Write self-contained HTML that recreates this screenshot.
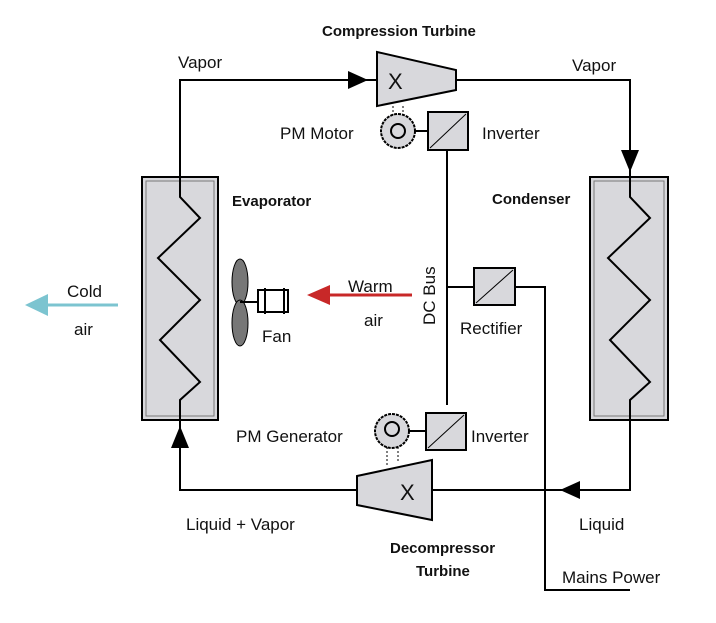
<!DOCTYPE html>
<html><head><style>
body{margin:0;background:#fff;}
svg text{font-family:"Liberation Sans",sans-serif;font-size:17px;fill:#111;}
.b{font-weight:bold;font-size:15px;}
</style></head><body>
<svg width="716" height="618" viewBox="0 0 716 618">
<g stroke="#000" stroke-width="2" fill="none">
<polyline points="180,177 180,80 378,80"/>
<polyline points="455,80 630,80 630,177"/>
<polyline points="630,420 630,490 432,490"/>
<polyline points="357,490 180,490 180,420"/>
<line x1="447" y1="150" x2="447" y2="405"/>
<line x1="447" y1="287" x2="474" y2="287"/>
<polyline points="515,287 545,287 545,590 630,590"/>
</g>
<!-- evaporator -->
<rect x="142" y="177" width="76" height="243" fill="#d8d8dc" stroke="#000" stroke-width="2"/>
<rect x="146" y="181" width="68" height="235" fill="none" stroke="#777" stroke-width="1"/>
<polyline points="180,177 180,197 200,218 158,258 200,300 160,340 200,382 180,400 180,420" fill="none" stroke="#000" stroke-width="2"/>
<!-- condenser -->
<rect x="590" y="177" width="78" height="243" fill="#d8d8dc" stroke="#000" stroke-width="2"/>
<rect x="594" y="181" width="70" height="235" fill="none" stroke="#777" stroke-width="1"/>
<polyline points="630,177 630,197 650,218 608,258 650,300 610,340 650,382 630,400 630,420" fill="none" stroke="#000" stroke-width="2"/>
<!-- arrows -->
<polygon points="348,71 368,80 348,89" fill="#000"/>
<polygon points="621,150 639,150 630,172" fill="#000"/>
<polygon points="171,448 189,448 180,426" fill="#000"/>
<polygon points="580,481 580,499 560,490" fill="#000"/>
<!-- compression turbine -->
<polygon points="377,52 456,70 456,90 377,106" fill="#d8d8dc" stroke="#000" stroke-width="2"/>
<text x="388" y="89" style="font-size:22px">X</text>
<line x1="393" y1="106" x2="393" y2="116" stroke="#000" stroke-dasharray="2,2"/>
<line x1="403" y1="106" x2="403" y2="116" stroke="#000" stroke-dasharray="2,2"/>
<circle cx="398" cy="131" r="17" fill="#d8d8dc" stroke="#000" stroke-width="2" stroke-dasharray="3,1"/>
<circle cx="398" cy="131" r="7" fill="none" stroke="#000" stroke-width="2"/>
<line x1="415" y1="131" x2="428" y2="131" stroke="#000" stroke-width="2"/>
<rect x="428" y="112" width="40" height="38" fill="#d8d8dc" stroke="#000" stroke-width="2"/>
<line x1="430" y1="148" x2="466" y2="114" stroke="#000"/>
<!-- decompressor -->
<polygon points="357,476 432,460 432,520 357,505" fill="#d8d8dc" stroke="#000" stroke-width="2"/>
<text x="400" y="500" style="font-size:22px">X</text>
<line x1="387" y1="447" x2="387" y2="465" stroke="#000" stroke-dasharray="2,2"/>
<line x1="398" y1="447" x2="398" y2="462" stroke="#000" stroke-dasharray="2,2"/>
<circle cx="392" cy="431" r="17" fill="#d8d8dc" stroke="#000" stroke-width="2" stroke-dasharray="3,1"/>
<circle cx="392" cy="429" r="7" fill="none" stroke="#000" stroke-width="2"/>
<line x1="409" y1="431" x2="426" y2="431" stroke="#000" stroke-width="2"/>
<rect x="426" y="413" width="40" height="37" fill="#d8d8dc" stroke="#000" stroke-width="2"/>
<line x1="428" y1="448" x2="464" y2="415" stroke="#000"/>
<!-- rectifier -->
<rect x="474" y="268" width="41" height="37" fill="#d8d8dc" stroke="#000" stroke-width="2"/>
<line x1="476" y1="303" x2="513" y2="270" stroke="#000"/>
<!-- fan -->
<ellipse cx="240" cy="282" rx="8" ry="23" fill="#777" stroke="#000"/>
<ellipse cx="240" cy="323" rx="8" ry="23" fill="#777" stroke="#000"/>
<line x1="240" y1="302" x2="258" y2="302" stroke="#000" stroke-width="2"/>
<rect x="258" y="290" width="30" height="22" fill="#fff" stroke="#000" stroke-width="2"/>
<line x1="265" y1="288" x2="265" y2="314" stroke="#000" stroke-width="2"/>
<line x1="284" y1="288" x2="284" y2="314" stroke="#000" stroke-width="2"/>
<!-- air arrows -->
<line x1="118" y1="305" x2="42" y2="305" stroke="#7cc4d0" stroke-width="3"/>
<polygon points="48,294 48,316 25,305" fill="#7cc4d0"/>
<line x1="412" y1="295" x2="325" y2="295" stroke="#c82828" stroke-width="3"/>
<polygon points="330,285 330,305 307,295" fill="#c82828"/>
<!-- labels -->
<text x="322" y="36" class="b">Compression Turbine</text>
<text x="178" y="68">Vapor</text>
<text x="572" y="71">Vapor</text>
<text x="280" y="139">PM Motor</text>
<text x="482" y="139">Inverter</text>
<text x="232" y="206" class="b">Evaporator</text>
<text x="492" y="204" class="b">Condenser</text>
<text x="67" y="297">Cold</text>
<text x="74" y="335">air</text>
<text x="262" y="342">Fan</text>
<text x="348" y="292">Warm</text>
<text x="364" y="326">air</text>
<text x="435" y="325" transform="rotate(-90 435 325)">DC Bus</text>
<text x="460" y="334">Rectifier</text>
<text x="236" y="442">PM Generator</text>
<text x="471" y="442">Inverter</text>
<text x="186" y="530">Liquid + Vapor</text>
<text x="579" y="530">Liquid</text>
<text x="390" y="553" class="b">Decompressor</text>
<text x="416" y="576" class="b">Turbine</text>
<text x="562" y="583">Mains Power</text>
</svg>
</body></html>
